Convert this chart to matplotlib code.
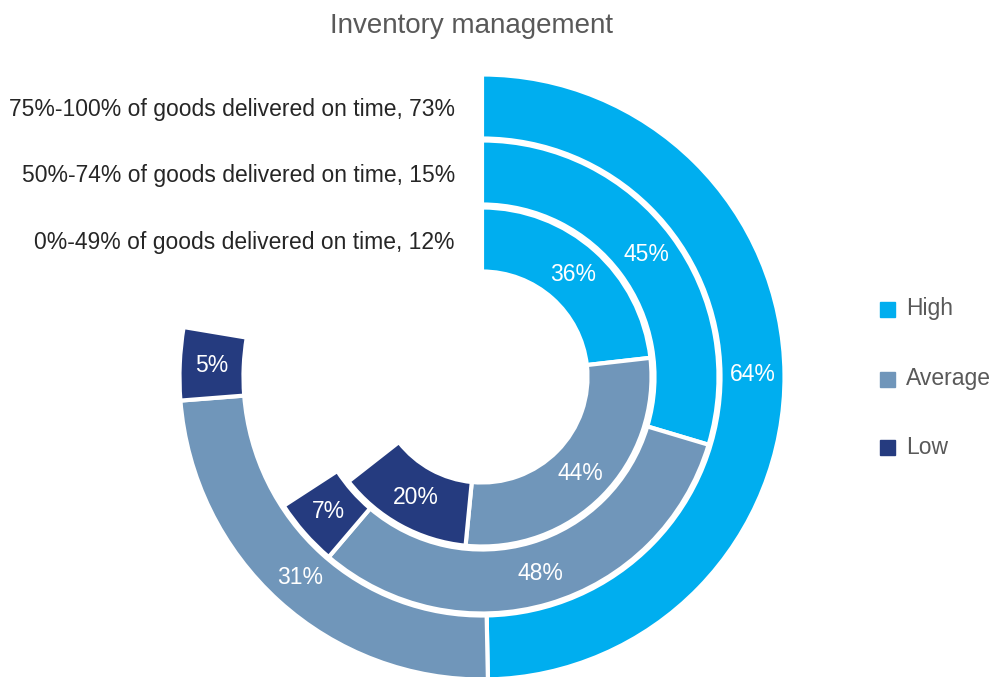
import matplotlib.pyplot as plt
import numpy as np

plt.rcParams.update({
    "font.family": ["Liberation Sans", "DejaVu Sans"],
})

# ---- data ---------------------------------------------------------------
categories = ["High", "Average", "Low"]
ring_names = ["75%-100% of goods delivered on time, 73%",
              "50%-74% of goods delivered on time, 15%",
              "0%-49% of goods delivered on time, 12%"]
high = [64, 45, 36]
average = [31, 48, 44]
low = [5, 7, 20]
blank = [28.8, 51.9, 55.2]     # hidden filler slice of each ring

colors = ["#00AEEF", "#7096BA", "#253B7F"]

# ---- figure -------------------------------------------------------------
W, H = 992, 677
fig = plt.figure(figsize=(W / 100, H / 100), dpi=100)
ax = fig.add_axes([0, 0, 1, 1])

cx, cy = 482, H - 377
radii = [302.5, 236.5, 169.5]
width = 64

for i in range(3):
    vals = [high[i], average[i], low[i], blank[i]]
    wedges, _ = ax.pie(vals, radius=radii[i], center=(cx, cy), startangle=90,
                       counterclock=False, colors=colors + ["white"],
                       wedgeprops=dict(width=width, edgecolor="white", linewidth=3))
    wedges[-1].set_visible(False)
    rmid = radii[i] - width / 2
    for w, v in zip(wedges[:3], vals[:3]):
        ang = np.deg2rad((w.theta1 + w.theta2) / 2)
        ax.text(cx + rmid * np.cos(ang), cy + rmid * np.sin(ang), f"{v}%",
                ha="center", va="center", color="white", fontsize=16.5)
    ax.text(455, cy + rmid - 3, ring_names[i], ha="right", va="center",
            color="#262626", fontsize=16.5)

ax.set_xlim(0, W)
ax.set_ylim(0, H)
ax.set_aspect("equal")
ax.axis("off")

ax.text(472, H - 26, "Inventory management", ha="center", va="center",
        color="#595959", fontsize=20)

# legend
leg_y = [309, 379, 447]
for lab, col, y in zip(categories, colors, leg_y):
    ax.add_patch(plt.Rectangle((880, H - y - 7.5), 15, 15, color=col))
    ax.text(906, H - y, lab, ha="left", va="center", color="#595959", fontsize=16.5)

fig.savefig("out.png", dpi=100)
